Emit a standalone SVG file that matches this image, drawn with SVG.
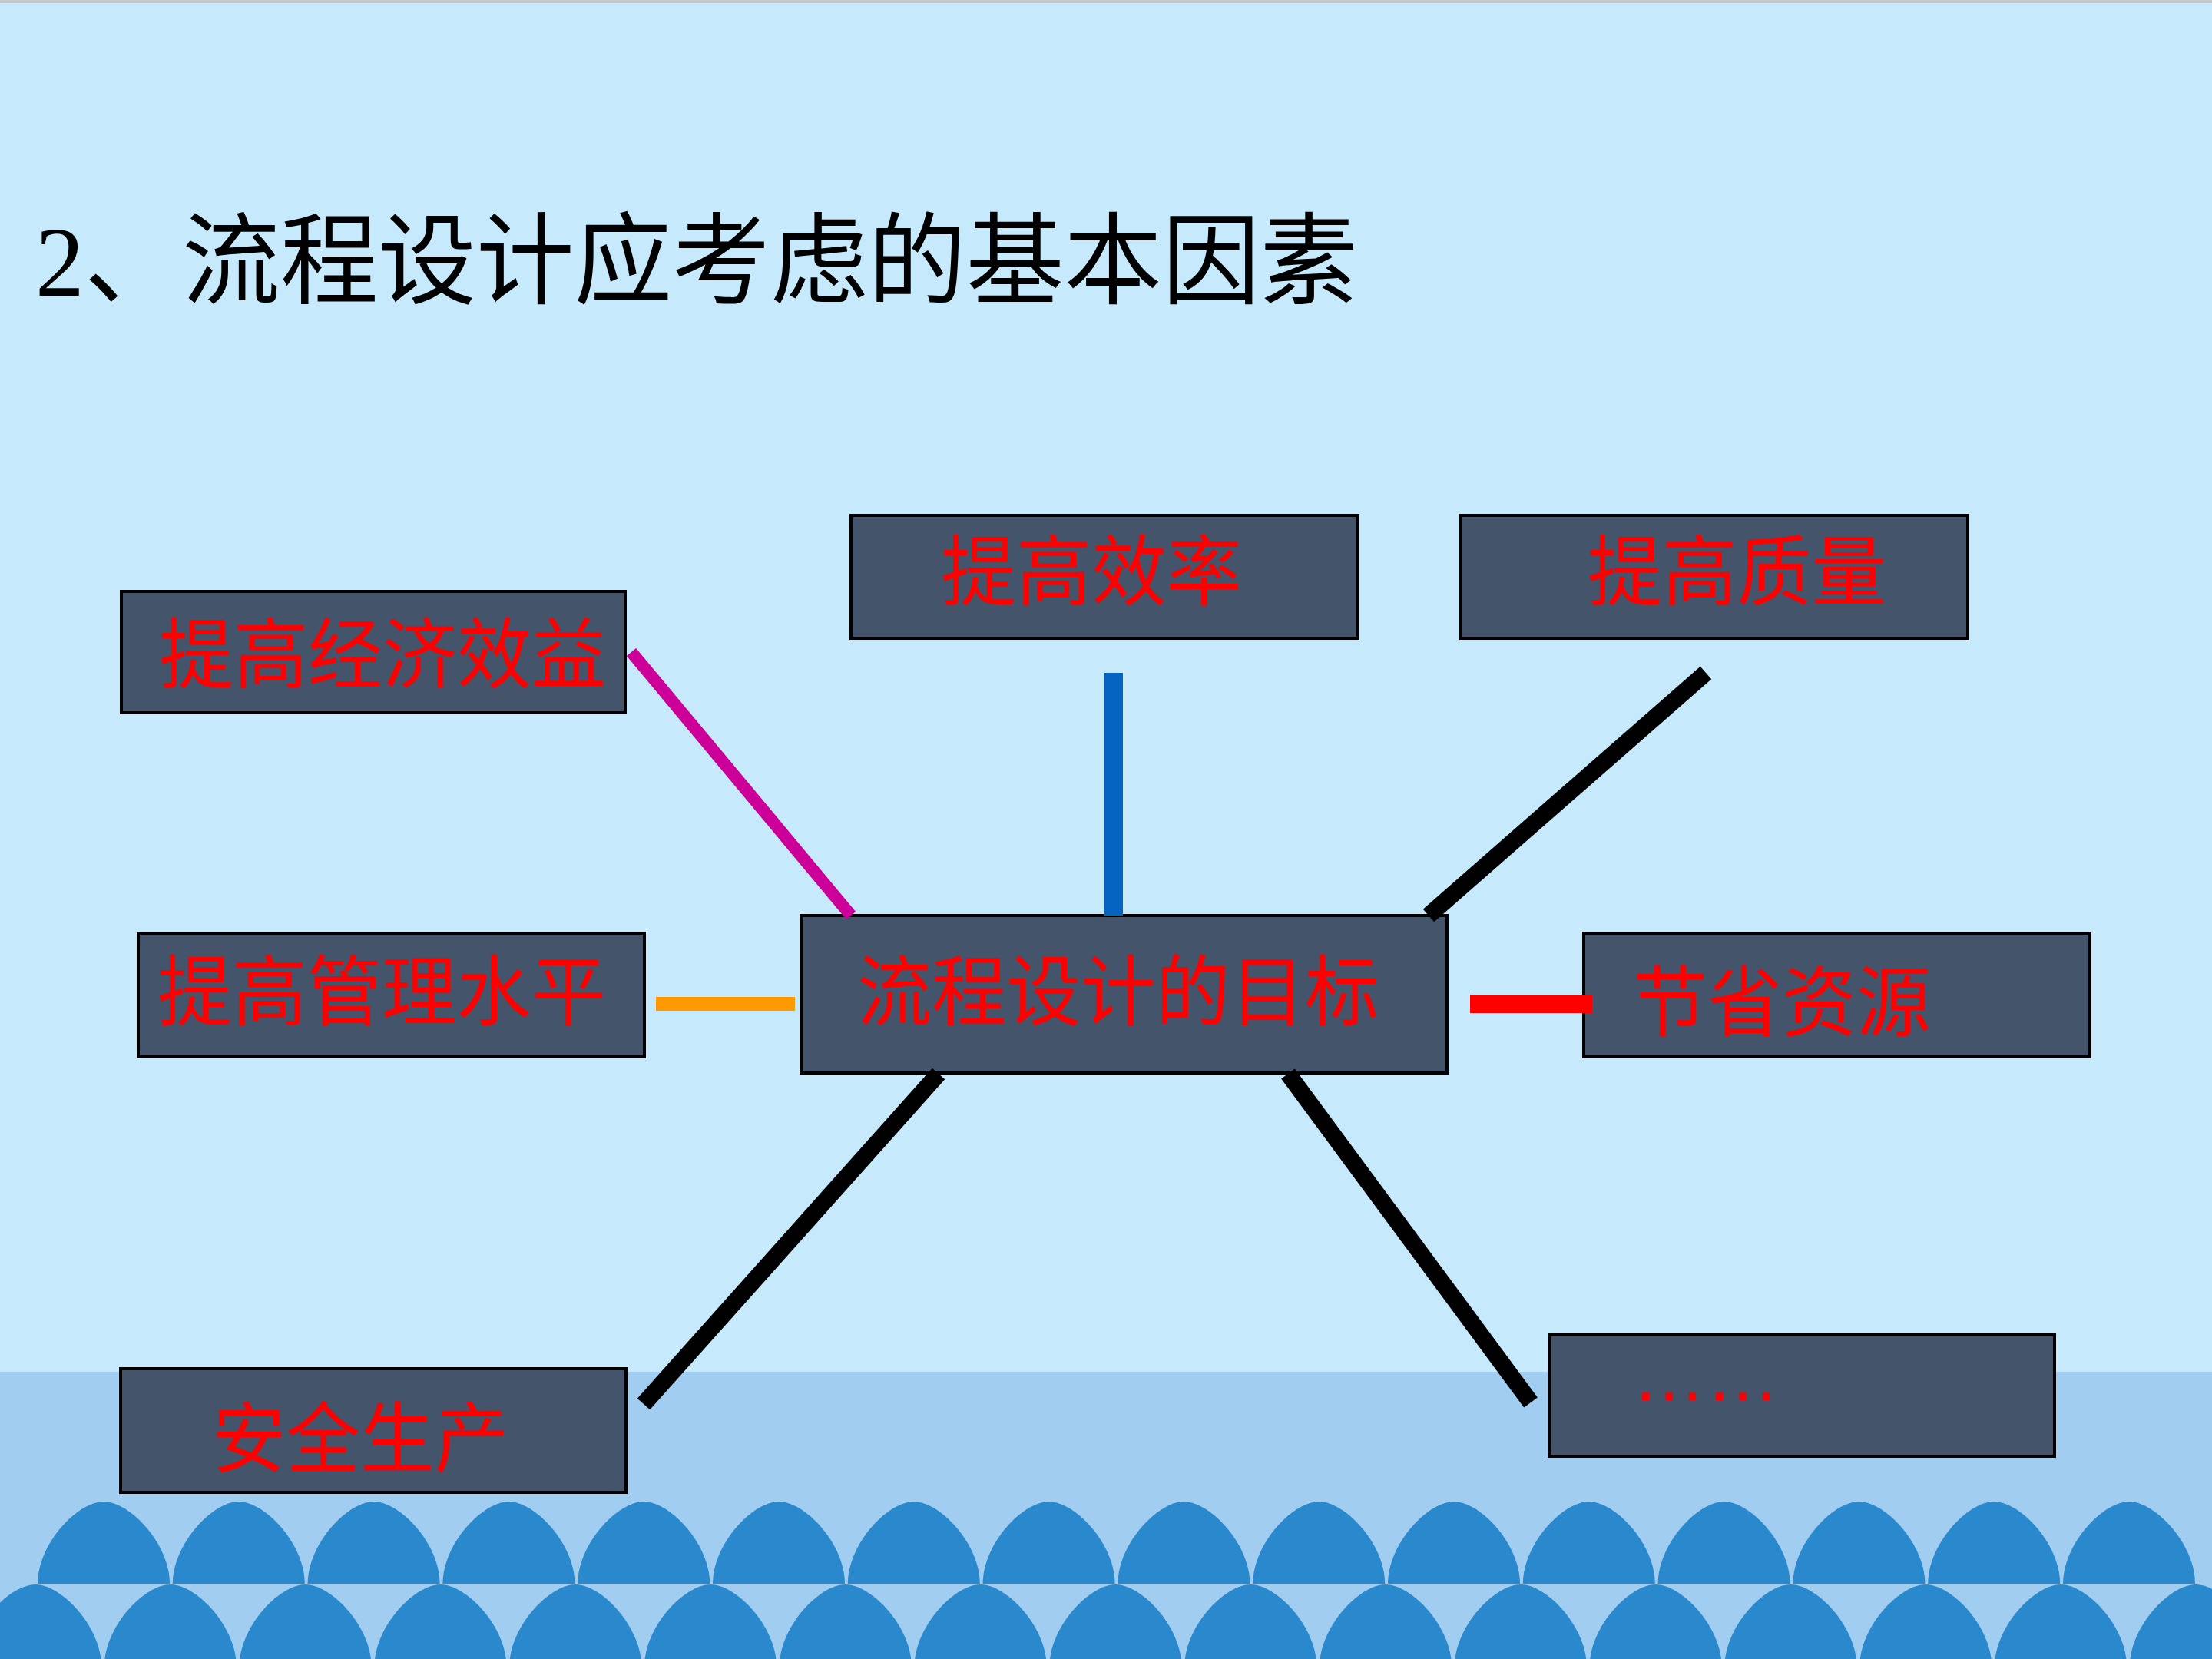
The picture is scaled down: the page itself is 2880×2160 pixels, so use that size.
<svg xmlns="http://www.w3.org/2000/svg" xmlns:xlink="http://www.w3.org/1999/xlink" width="2880" height="2160" viewBox="0 0 2880 2160">
  <style>
    .box { fill: #44546A; stroke: #000000; stroke-width: 4; }
    .lbl { fill: #FF0000; font-family: "Noto Sans CJK SC", sans-serif; font-size: 100px; }
    .conn { fill: none; stroke-linecap: butt; }
  </style>
  <defs>
    <path id="bump" d="M-86,0 C-86,-52 -34,-107 0,-107 C34,-107 86,-52 86,0 Z" fill="#2A88CD"/>
  </defs>

  <g id="background">
    <rect x="0" y="0" width="2880" height="2160" fill="#C6E9FB"/>
    <rect x="0" y="1786" width="2880" height="374" fill="#A0CDF0"/>
    <rect x="0" y="0" width="2880" height="4" fill="#C8C8C8"/>
    <g id="waves-row1">
      <use href="#bump" x="135" y="2062"/>
      <use href="#bump" x="310.8" y="2062"/>
      <use href="#bump" x="486.6" y="2062"/>
      <use href="#bump" x="662.4" y="2062"/>
      <use href="#bump" x="838.2" y="2062"/>
      <use href="#bump" x="1014" y="2062"/>
      <use href="#bump" x="1189.8" y="2062"/>
      <use href="#bump" x="1365.6" y="2062"/>
      <use href="#bump" x="1541.4" y="2062"/>
      <use href="#bump" x="1717.2" y="2062"/>
      <use href="#bump" x="1893" y="2062"/>
      <use href="#bump" x="2068.8" y="2062"/>
      <use href="#bump" x="2244.6" y="2062"/>
      <use href="#bump" x="2420.4" y="2062"/>
      <use href="#bump" x="2596.2" y="2062"/>
      <use href="#bump" x="2772" y="2062"/>
    </g>
    <g id="waves-row2">
      <use href="#bump" x="46" y="2170"/>
      <use href="#bump" x="221.8" y="2170"/>
      <use href="#bump" x="397.6" y="2170"/>
      <use href="#bump" x="573.4" y="2170"/>
      <use href="#bump" x="749.2" y="2170"/>
      <use href="#bump" x="925" y="2170"/>
      <use href="#bump" x="1100.8" y="2170"/>
      <use href="#bump" x="1276.6" y="2170"/>
      <use href="#bump" x="1452.4" y="2170"/>
      <use href="#bump" x="1628.2" y="2170"/>
      <use href="#bump" x="1804" y="2170"/>
      <use href="#bump" x="1979.8" y="2170"/>
      <use href="#bump" x="2155.6" y="2170"/>
      <use href="#bump" x="2331.4" y="2170"/>
      <use href="#bump" x="2507.2" y="2170"/>
      <use href="#bump" x="2683" y="2170"/>
      <use href="#bump" x="2858.8" y="2170"/>
    </g>
  </g>

  <g id="title">
    <text x="46" y="385" font-family="Liberation Serif, 'Noto Sans CJK SC', serif" font-size="130" fill="#000000" textLength="1722" lengthAdjust="spacingAndGlyphs">2、流程设计应考虑的基本因素</text>
  </g>

  <g id="node-jingji">
    <rect class="box" x="158" y="770" width="656" height="158"/>
    <text class="lbl" x="207" y="888" textLength="582" lengthAdjust="spacingAndGlyphs">提高经济效益</text>
  </g>
  <g id="node-xiaolv">
    <rect class="box" x="1108" y="671" width="660" height="160"/>
    <text class="lbl" x="1225" y="780" textLength="392" lengthAdjust="spacingAndGlyphs">提高效率</text>
  </g>
  <g id="node-zhiliang">
    <rect class="box" x="1902" y="671" width="660" height="160"/>
    <text class="lbl" x="2067" y="780" textLength="389" lengthAdjust="spacingAndGlyphs">提高质量</text>
  </g>
  <g id="node-guanli">
    <rect class="box" x="180" y="1215" width="659" height="161"/>
    <text class="lbl" x="205" y="1327" textLength="584" lengthAdjust="spacingAndGlyphs">提高管理水平</text>
  </g>
  <g id="node-center">
    <rect class="box" x="1043" y="1192" width="841" height="205"/>
    <text class="lbl" x="1116" y="1327" textLength="680" lengthAdjust="spacingAndGlyphs">流程设计的目标</text>
  </g>
  <g id="node-ziyuan">
    <rect class="box" x="2062" y="1215" width="659" height="161"/>
    <text class="lbl" x="2126" y="1341" textLength="388" lengthAdjust="spacingAndGlyphs">节省资源</text>
  </g>
  <g id="node-anquan">
    <rect class="box" x="157" y="1782" width="658" height="161"/>
    <text class="lbl" x="276" y="1909" textLength="386" lengthAdjust="spacingAndGlyphs">安全生产</text>
  </g>
  <g id="node-more">
    <rect class="box" x="2017" y="1738" width="658" height="158"/>
    <text x="2125" y="1823" font-family="Liberation Sans, sans-serif" font-size="96" fill="#FF0000">……</text>
  </g>

  <g id="connectors">
    <line class="conn" x1="822" y1="849" x2="1108" y2="1192" stroke="#CC0099" stroke-width="16"/>
    <line class="conn" x1="1450" y1="876" x2="1450" y2="1192" stroke="#0563C1" stroke-width="24"/>
    <line class="conn" x1="2221" y1="876" x2="1860" y2="1192" stroke="#000000" stroke-width="22"/>
    <line class="conn" x1="854" y1="1307" x2="1035" y2="1307" stroke="#FF9900" stroke-width="18"/>
    <line class="conn" x1="1914" y1="1307" x2="2073" y2="1307" stroke="#FF0000" stroke-width="24"/>
    <line class="conn" x1="1222" y1="1398" x2="838" y2="1828" stroke="#000000" stroke-width="22"/>
    <line class="conn" x1="1677" y1="1398" x2="1993" y2="1826" stroke="#000000" stroke-width="22"/>
  </g>
</svg>
